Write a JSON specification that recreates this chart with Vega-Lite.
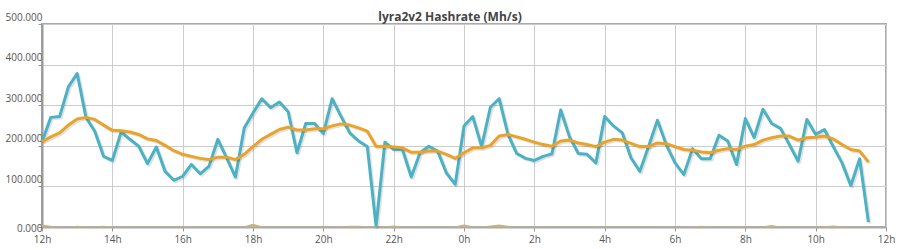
{
  "$schema": "https://vega.github.io/schema/vega-lite/v6.json",
  "width": 844,
  "height": 203,
  "autosize": "none",
  "padding": {"left": 42, "top": 24, "right": 12, "bottom": 23},
  "background": "white",
  "title": {"text": "lyra2v2 Hashrate (Mh/s)", "font": "Open Sans", "fontSize": 12, "fontWeight": "bold", "color": "#444444", "anchor": "middle", "baseline": "alphabetic", "offset": -21, "dx": -14},
  "config": {
    "view": {"stroke": "#aaaaaa", "strokeWidth": 2},
    "axisX": {"grid": true, "gridColor": "#cccccc", "gridWidth": 1, "domainColor": "#aaaaaa", "domainWidth": 2, "tickColor": "#999999", "tickSize": 4, "labelFont": "Open Sans", "labelFontSize": 10, "labelColor": "#555555", "labelPadding": 3, "labelFlush": false, "title": null},
    "axisY": {"grid": true, "gridColor": "#cccccc", "gridWidth": 1, "domainColor": "#999999", "domainWidth": 2, "tickColor": "#999999", "tickSize": 4, "labelFont": "Open Sans", "labelFontSize": 10, "labelColor": "#555555", "labelPadding": -4, "labelAlign": "right", "labelBaseline": "middle", "values": [0, 100, 200, 300, 400, 500], "format": ".3f", "title": null}
  },
  "data": {"values": [
    {"t": "2024-01-01T12:00", "rate": 210, "avg": 210, "low": 6},
    {"t": "2024-01-01T12:15", "rate": 270, "avg": 222, "low": 3},
    {"t": "2024-01-01T12:30", "rate": 272, "avg": 232, "low": 1},
    {"t": "2024-01-01T12:45", "rate": 345, "avg": 251, "low": 1},
    {"t": "2024-01-01T13:00", "rate": 378, "avg": 266, "low": 3},
    {"t": "2024-01-01T13:15", "rate": 270, "avg": 270, "low": 2},
    {"t": "2024-01-01T13:30", "rate": 236, "avg": 265, "low": 1},
    {"t": "2024-01-01T13:45", "rate": 174, "avg": 251, "low": 3},
    {"t": "2024-01-01T14:00", "rate": 164, "avg": 238, "low": 1},
    {"t": "2024-01-01T14:15", "rate": 234, "avg": 237, "low": 1},
    {"t": "2024-01-01T14:30", "rate": 216, "avg": 234, "low": 2},
    {"t": "2024-01-01T14:45", "rate": 199, "avg": 228, "low": 1},
    {"t": "2024-01-01T15:00", "rate": 156, "avg": 217, "low": 1},
    {"t": "2024-01-01T15:15", "rate": 197, "avg": 213, "low": 2},
    {"t": "2024-01-01T15:30", "rate": 137, "avg": 201, "low": 1},
    {"t": "2024-01-01T15:45", "rate": 115, "avg": 188, "low": 1},
    {"t": "2024-01-01T16:00", "rate": 125, "avg": 179, "low": 2},
    {"t": "2024-01-01T16:15", "rate": 154, "avg": 174, "low": 1},
    {"t": "2024-01-01T16:30", "rate": 131, "avg": 169, "low": 1},
    {"t": "2024-01-01T16:45", "rate": 150, "avg": 166, "low": 1},
    {"t": "2024-01-01T17:00", "rate": 216, "avg": 172, "low": 1},
    {"t": "2024-01-01T17:15", "rate": 170, "avg": 172, "low": 1},
    {"t": "2024-01-01T17:30", "rate": 123, "avg": 166, "low": 1},
    {"t": "2024-01-01T17:45", "rate": 244, "avg": 179, "low": 2},
    {"t": "2024-01-01T18:00", "rate": 281, "avg": 198, "low": 8},
    {"t": "2024-01-01T18:15", "rate": 316, "avg": 216, "low": 2},
    {"t": "2024-01-01T18:30", "rate": 294, "avg": 228, "low": 1},
    {"t": "2024-01-01T18:45", "rate": 308, "avg": 240, "low": 1},
    {"t": "2024-01-01T19:00", "rate": 284, "avg": 246, "low": 1},
    {"t": "2024-01-01T19:15", "rate": 183, "avg": 239, "low": 1},
    {"t": "2024-01-01T19:30", "rate": 255, "avg": 239, "low": 1},
    {"t": "2024-01-01T19:45", "rate": 255, "avg": 242, "low": 1},
    {"t": "2024-01-01T20:00", "rate": 230, "avg": 242, "low": 1},
    {"t": "2024-01-01T20:15", "rate": 316, "avg": 249, "low": 2},
    {"t": "2024-01-01T20:30", "rate": 273, "avg": 254, "low": 2},
    {"t": "2024-01-01T20:45", "rate": 232, "avg": 251, "low": 3},
    {"t": "2024-01-01T21:00", "rate": 212, "avg": 244, "low": 3},
    {"t": "2024-01-01T21:15", "rate": 198, "avg": 236, "low": 2},
    {"t": "2024-01-01T21:30", "rate": 2, "avg": 198, "low": 1},
    {"t": "2024-01-01T21:45", "rate": 209, "avg": 199, "low": 2},
    {"t": "2024-01-01T22:00", "rate": 191, "avg": 197, "low": 4},
    {"t": "2024-01-01T22:15", "rate": 191, "avg": 195, "low": 1},
    {"t": "2024-01-01T22:30", "rate": 123, "avg": 184, "low": 1},
    {"t": "2024-01-01T22:45", "rate": 183, "avg": 184, "low": 1},
    {"t": "2024-01-01T23:00", "rate": 199, "avg": 187, "low": 1},
    {"t": "2024-01-01T23:15", "rate": 187, "avg": 187, "low": 1},
    {"t": "2024-01-01T23:30", "rate": 133, "avg": 179, "low": 1},
    {"t": "2024-01-01T23:45", "rate": 105, "avg": 169, "low": 2},
    {"t": "2024-01-02T00:00", "rate": 249, "avg": 183, "low": 6},
    {"t": "2024-01-02T00:15", "rate": 272, "avg": 195, "low": 2},
    {"t": "2024-01-02T00:30", "rate": 198, "avg": 195, "low": 1},
    {"t": "2024-01-02T00:45", "rate": 295, "avg": 201, "low": 4},
    {"t": "2024-01-02T01:00", "rate": 316, "avg": 224, "low": 6},
    {"t": "2024-01-02T01:15", "rate": 228, "avg": 228, "low": 3},
    {"t": "2024-01-02T01:30", "rate": 181, "avg": 222, "low": 1},
    {"t": "2024-01-02T01:45", "rate": 169, "avg": 216, "low": 1},
    {"t": "2024-01-02T02:00", "rate": 164, "avg": 209, "low": 1},
    {"t": "2024-01-02T02:15", "rate": 174, "avg": 203, "low": 1},
    {"t": "2024-01-02T02:30", "rate": 180, "avg": 199, "low": 1},
    {"t": "2024-01-02T02:45", "rate": 288, "avg": 212, "low": 1},
    {"t": "2024-01-02T03:00", "rate": 222, "avg": 214, "low": 2},
    {"t": "2024-01-02T03:15", "rate": 181, "avg": 207, "low": 1},
    {"t": "2024-01-02T03:30", "rate": 179, "avg": 203, "low": 1},
    {"t": "2024-01-02T03:45", "rate": 158, "avg": 198, "low": 1},
    {"t": "2024-01-02T04:00", "rate": 272, "avg": 209, "low": 1},
    {"t": "2024-01-02T04:15", "rate": 249, "avg": 216, "low": 1},
    {"t": "2024-01-02T04:30", "rate": 232, "avg": 214, "low": 2},
    {"t": "2024-01-02T04:45", "rate": 170, "avg": 206, "low": 1},
    {"t": "2024-01-02T05:00", "rate": 137, "avg": 198, "low": 1},
    {"t": "2024-01-02T05:15", "rate": 199, "avg": 198, "low": 1},
    {"t": "2024-01-02T05:30", "rate": 263, "avg": 207, "low": 1},
    {"t": "2024-01-02T05:45", "rate": 203, "avg": 205, "low": 1},
    {"t": "2024-01-02T06:00", "rate": 158, "avg": 198, "low": 1},
    {"t": "2024-01-02T06:15", "rate": 129, "avg": 191, "low": 1},
    {"t": "2024-01-02T06:30", "rate": 193, "avg": 189, "low": 2},
    {"t": "2024-01-02T06:45", "rate": 168, "avg": 185, "low": 3},
    {"t": "2024-01-02T07:00", "rate": 168, "avg": 183, "low": 1},
    {"t": "2024-01-02T07:15", "rate": 226, "avg": 189, "low": 1},
    {"t": "2024-01-02T07:30", "rate": 212, "avg": 193, "low": 2},
    {"t": "2024-01-02T07:45", "rate": 154, "avg": 191, "low": 1},
    {"t": "2024-01-02T08:00", "rate": 267, "avg": 199, "low": 1},
    {"t": "2024-01-02T08:15", "rate": 220, "avg": 203, "low": 1},
    {"t": "2024-01-02T08:30", "rate": 290, "avg": 214, "low": 2},
    {"t": "2024-01-02T08:45", "rate": 255, "avg": 220, "low": 5},
    {"t": "2024-01-02T09:00", "rate": 243, "avg": 224, "low": 1},
    {"t": "2024-01-02T09:15", "rate": 203, "avg": 224, "low": 1},
    {"t": "2024-01-02T09:30", "rate": 162, "avg": 214, "low": 1},
    {"t": "2024-01-02T09:45", "rate": 265, "avg": 220, "low": 1},
    {"t": "2024-01-02T10:00", "rate": 228, "avg": 221, "low": 1},
    {"t": "2024-01-02T10:15", "rate": 240, "avg": 224, "low": 2},
    {"t": "2024-01-02T10:30", "rate": 198, "avg": 217, "low": 4},
    {"t": "2024-01-02T10:45", "rate": 158, "avg": 203, "low": 2},
    {"t": "2024-01-02T11:00", "rate": 102, "avg": 191, "low": 1},
    {"t": "2024-01-02T11:15", "rate": 168, "avg": 187, "low": 1},
    {"t": "2024-01-02T11:30", "rate": 12, "avg": 160, "low": 1}
  ]},
  "encoding": {
    "x": {"field": "t", "type": "temporal", "title": null,
      "scale": {"domain": [{"year": 2024, "month": 1, "date": 1, "hours": 12}, {"year": 2024, "month": 1, "date": 2, "hours": 12}]},
      "axis": {"values": [
        {"year": 2024, "month": 1, "date": 1, "hours": 12},
        {"year": 2024, "month": 1, "date": 1, "hours": 14},
        {"year": 2024, "month": 1, "date": 1, "hours": 16},
        {"year": 2024, "month": 1, "date": 1, "hours": 18},
        {"year": 2024, "month": 1, "date": 1, "hours": 20},
        {"year": 2024, "month": 1, "date": 1, "hours": 22},
        {"year": 2024, "month": 1, "date": 2, "hours": 0},
        {"year": 2024, "month": 1, "date": 2, "hours": 2},
        {"year": 2024, "month": 1, "date": 2, "hours": 4},
        {"year": 2024, "month": 1, "date": 2, "hours": 6},
        {"year": 2024, "month": 1, "date": 2, "hours": 8},
        {"year": 2024, "month": 1, "date": 2, "hours": 10},
        {"year": 2024, "month": 1, "date": 2, "hours": 12}
      ], "labelExpr": "hours(datum.value) + 'h'"}}
  },
  "layer": [
    {"mark": {"type": "line", "stroke": "#000000", "strokeOpacity": 0.12, "strokeWidth": 3, "strokeJoin": "round", "xOffset": 1.5, "yOffset": 1.5},
     "encoding": {"y": {"field": "rate", "type": "quantitative", "title": null, "scale": {"domain": [0, 500], "nice": false},
       "axis": {"labelOffset": {"condition": {"test": "datum.value == 0", "value": 1}, "value": -7}}}}},
    {"mark": {"type": "line", "stroke": "#4bb2c5", "strokeWidth": 3, "strokeJoin": "round"},
     "encoding": {"y": {"field": "rate", "type": "quantitative", "title": null}}},
    {"mark": {"type": "line", "stroke": "#000000", "strokeOpacity": 0.12, "strokeWidth": 3, "strokeJoin": "round", "xOffset": 1.5, "yOffset": 1.5},
     "encoding": {"y": {"field": "avg", "type": "quantitative", "title": null}}},
    {"mark": {"type": "line", "stroke": "#eaa228", "strokeWidth": 3, "strokeJoin": "round"},
     "encoding": {"y": {"field": "avg", "type": "quantitative", "title": null}}},
    {"mark": {"type": "area", "color": "#c5b47f", "opacity": 1},
     "encoding": {"y": {"field": "low", "type": "quantitative", "title": null}}}
  ]
}
